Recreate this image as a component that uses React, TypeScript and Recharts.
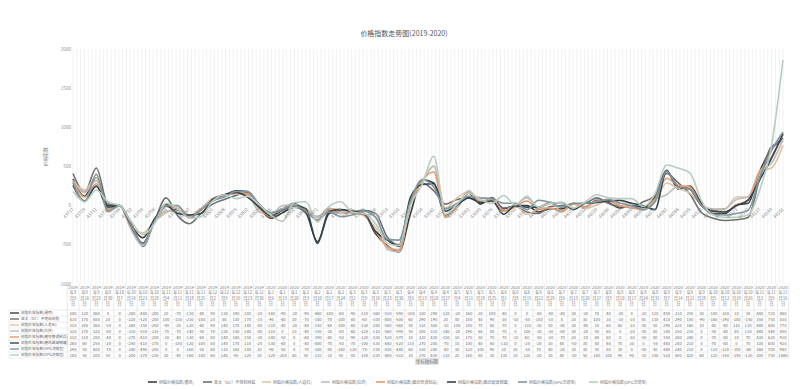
import { LineChart, Line, XAxis, YAxis, CartesianGrid, Legend, LabelList } from 'recharts';

const FONT = '"Noto Sans CJK SC", "Noto Sans", sans-serif';

// 周度日期（1月27日春节周无报价）
const dates = [
  '2019年9月9日', '2019年9月16日', '2019年9月23日', '2019年9月30日', '2019年10月7日', '2019年10月14日',
  '2019年10月21日', '2019年10月28日', '2019年11月4日', '2019年11月11日', '2019年11月18日', '2019年11月25日',
  '2019年12月2日', '2019年12月9日', '2019年12月16日', '2019年12月23日', '2019年12月30日',
  '2020年1月6日', '2020年1月13日', '2020年1月20日', '2020年2月3日', '2020年2月10日', '2020年2月17日',
  '2020年2月24日', '2020年3月2日', '2020年3月9日', '2020年3月16日', '2020年3月23日', '2020年3月30日',
  '2020年4月6日', '2020年4月13日', '2020年4月20日', '2020年4月27日', '2020年5月4日', '2020年5月11日',
  '2020年5月18日', '2020年5月25日', '2020年6月1日', '2020年6月8日', '2020年6月15日', '2020年6月22日',
  '2020年6月29日', '2020年7月6日', '2020年7月13日', '2020年7月20日', '2020年7月27日', '2020年8月3日',
  '2020年8月10日', '2020年8月17日', '2020年8月24日', '2020年8月31日', '2020年9月7日', '2020年9月14日',
  '2020年9月21日', '2020年9月28日', '2020年10月5日', '2020年10月12日', '2020年10月19日', '2020年10月26日',
  '2020年11月2日', '2020年11月9日', '2020年11月16日',
];

const seriesNames = [
  '树脂价格指数(通用)',
  '亚太（DC）不饱和树脂',
  '树脂价格指数(人造石)',
  '树脂价格指数(拉挤)',
  '树脂价格指数(缠绕管道制品)',
  '树脂价格指数(缠绕玻璃钢罐)',
  '树脂价格指数(NPG浇铸型)',
  '树脂价格指数(DPG浇铸型)',
];

const resinGeneral = [
  340, 120, 360, 0, 0, -280, -480, -200, 20, -70, -130, -40, 90, 130, 190, 180, -20,
  -160, -90, -20, -90, -460, -100, -60, -90, -110, -360, -510, -590, -100, 330, 290, -120, -20, 160, 20, 100, -40, 0,
  0, -80, -40, -40, 30, -30, 70, 40, -30, 0, -20, 110, 450, 210, 250, 30, -100, -100, 10, 30, 440, 720, 860,
];
const apacDC = [
  410, 170, 480, 20, 0, -220, -520, -200, 100, -130, -230, -100, 20, 80, 130, 170, -10,
  -90, -40, 30, -70, -140, -70, -100, -80, -60, -100, -400, -500, 60, 290, 190, 20, 80, 100, 40, 90, -30, -10,
  -80, -100, -10, 0, 20, 30, 100, 30, -10, -10, 50, 130, 410, 290, 150, -90, -160, -190, -180, -150, 350, 750, 830,
];
const artificialStone = [
  310, 200, 360, -50, 0, -260, -350, -200, -90, -20, -120, -40, 90, 140, 170, 140, -40,
  -110, -40, -20, -40, -150, -60, -100, -60, -130, -280, -540, -560, 50, 310, 500, -30, 100, 180, 70, 60, -70, 0,
  -110, -30, 50, -80, 30, -40, 10, 60, 60, -10, -50, 50, 290, 220, 160, 10, -40, -40, 110, 110, 440, 480, 770,
];
const pultrusion = [
  320, 170, 320, -80, 0, -310, -510, -210, -70, -70, -140, -50, 70, 130, 150, 140, -80,
  -110, 0, 10, -40, -150, -30, -80, -60, -120, -110, -560, -590, 50, 300, 510, -140, -20, 190, 60, 80, -70, 0,
  100, -30, -30, -80, 30, -20, 50, 60, 0, -20, -50, 80, 140, 250, 210, 0, -50, -40, 80, 110, 440, 540, 850,
];
const windingPipe = [
  310, 110, 280, -40, 0, -270, -410, -200, -10, -40, -130, -60, 80, 140, 160, 150, -30,
  -140, -50, 0, -60, -190, -40, -50, -90, -120, -330, -520, -570, 10, 320, 430, -150, 10, 170, 50, 70, -70, -10,
  60, -50, -30, -70, 20, -10, 60, 60, 0, -30, -50, 80, 350, 260, 240, 0, -70, -80, 10, 70, 430, 620, 910,
];
const windingTank = [
  260, 60, 250, -20, 0, -250, -410, -170, 0, -100, -120, -100, 80, 140, 170, 110, -20,
  -130, -60, 0, -40, -480, -70, -50, -70, -100, -330, -440, -520, 110, 270, 280, -70, 10, 100, 40, 60, -110, 0,
  -20, -20, 30, 40, -50, 30, 40, 60, 70, 30, 0, -50, 440, 240, 210, 0, -70, -80, 0, 70, 330, 600, 920,
];
const npgCasting = [
  290, 50, 400, -70, 0, -240, -490, -200, 0, 0, -160, -50, 60, 110, 180, 180, 20,
  -90, -50, 0, -70, -180, -80, -140, -120, -70, -150, -430, -440, 60, 330, 240, -40, 30, 120, 100, 90, 30, 30,
  -50, 70, 40, -20, 30, 30, 50, 80, 30, 0, -50, 50, 440, 240, 210, 0, -110, -120, -100, -60, 360, 700, 940,
];
const dpgCasting = [
  180, 50, 200, 50, 0, -200, -370, -230, 30, -40, -160, -140, 60, 140, 90, 120, 10,
  -120, -200, 40, 50, -210, -10, 50, -80, -100, -230, -480, -510, 10, 270, 630, -110, 20, 160, 80, 30, 130, 10,
  120, -20, 30, 40, -30, 50, 140, 100, 90, 90, -10, 150, 520, 480, 420, 60, -120, -150, -150, -120, 200, 750, 1860,
];

const yTicks = [-1000, -500, 0, 500, 1000, 1500, 2000];

const allSeries = [resinGeneral, apacDC, artificialStone, pultrusion, windingPipe, windingTank, npgCasting, dpgCasting];
const lineColors = ['#3c3c3c', '#707070', '#dcc2a4', '#bdbdbd', '#e39a6c', '#33434d', '#7f96a2', '#b8cdbf'];

// Excel 序列日期（轴标签用）
const toSerial = (d: string) => {
  const m = d.match(/(\d+)年(\d+)月(\d+)日/)!;
  return Date.UTC(+m[1], +m[2] - 1, +m[3]) / 86400000 + 25569;
};

const data = dates.map((d, i) => {
  const row: Record<string, number | string> = { date: d, serial: toSerial(d), zero: 0 };
  allSeries.forEach((s, k) => {
    row['k' + k] = s[i];
  });
  return row;
});

const HEAD_H = 26;
const ROW_H = 6;
const GRID = '#dadada';
const SMALL = 4.2;

const TableTick = (props: any) => {
  const { x, y, payload } = props;
  const i = typeof props.index === 'number' ? props.index : payload.index;
  const half = payload && payload.offset ? payload.offset : 5.7;
  const m = dates[i].match(/(\d+)年(\d+)月(\d+)日/)!;
  const head = [m[1], '年' + m[2], '月' + m[3], '日'];
  const left = x - half;
  const right = x + half;
  const bottom = y + HEAD_H + ROW_H * allSeries.length;
  return (
    <g fontFamily={FONT}>
      <line x1={left} x2={left} y1={y} y2={bottom} stroke={GRID} strokeWidth={0.6} />
      {i === dates.length - 1 && <line x1={right} x2={right} y1={y} y2={bottom} stroke={GRID} strokeWidth={0.6} />}
      {head.map((t, r) => (
        <text key={r} x={x} y={y + 5 + r * 5.4} textAnchor="middle" fontSize={SMALL} fill="#777">
          {t}
        </text>
      ))}
      {allSeries.map((s, k) => (
        <g key={k}>
          <line x1={left} x2={right} y1={y + HEAD_H + k * ROW_H} y2={y + HEAD_H + k * ROW_H} stroke={GRID} strokeWidth={0.5} />
          <text x={x} y={y + HEAD_H + k * ROW_H + 4.5} textAnchor="middle" fontSize={SMALL} fill="#666">
            {s[i]}
          </text>
        </g>
      ))}
      <line x1={left} x2={right} y1={bottom} y2={bottom} stroke={GRID} strokeWidth={0.5} />
      {i === 0 &&
        seriesNames.map((n, k) => (
          <g key={n}>
            <line x1={1} x2={left} y1={y + HEAD_H + k * ROW_H} y2={y + HEAD_H + k * ROW_H} stroke={GRID} strokeWidth={0.5} />
            <line x1={2} x2={11} y1={y + HEAD_H + k * ROW_H + 3} y2={y + HEAD_H + k * ROW_H + 3} stroke={lineColors[k]} strokeWidth={1.4} />
            <text x={13} y={y + HEAD_H + k * ROW_H + 4.4} fontSize={3.7} fill="#666">
              {n}
            </text>
          </g>
        ))}
      {i === 0 && <line x1={1} x2={left} y1={bottom} y2={bottom} stroke={GRID} strokeWidth={0.5} />}
      {i === 0 && <line x1={1} x2={1} y1={y + HEAD_H} y2={bottom} stroke={GRID} strokeWidth={0.5} />}
    </g>
  );
};

const ZeroDateLabel = (props: any) => {
  const { x, y, value } = props;
  const ax = x + 1;
  const ay = y + 4;
  return (
    <text x={ax} y={ay} transform={`rotate(-45 ${ax} ${ay})`} textAnchor="end" fontSize={4.6} fill="#8c8c8c" fontFamily={FONT}>
      {value}
    </text>
  );
};

// 图例按系列原顺序排列
const LegendRow = () => {
  const fs = 4;
  let cursor = 0;
  const laid = seriesNames.map((n, k) => {
    const start = cursor;
    cursor += 12 + n.length * fs + 3;
    return { n, k, start };
  });
  const total = cursor;
  return (
    <svg width={792} height={14} style={{ display: 'block' }}>
      <g transform={`translate(${(792 - total) / 2},0)`} fontFamily={FONT}>
        {laid.map(({ n, k, start }) => (
          <g key={n}>
            <line x1={start} x2={start + 9} y1={7} y2={7} stroke={lineColors[k]} strokeWidth={1.6} />
            <text x={start + 11} y={8.5} fontSize={fs} fill="#777">
              {n}
            </text>
          </g>
        ))}
      </g>
    </svg>
  );
};

const stripes = ({ offset }: any) => {
  const out: number[] = [];
  const step = offset.width / (dates.length * 3);
  for (let k = 0; k <= dates.length * 3; k++) out.push(offset.left + k * step);
  return out;
};

export default function App() {
  return (
    <div style={{ position: 'relative', width: 792, height: 381 }}>
      <LineChart width={792} height={381} data={data} margin={{ top: 41, right: 17, left: 0, bottom: 6 }}>
        <CartesianGrid horizontal={false} stroke="#e7e7e7" strokeWidth={0.6} verticalCoordinatesGenerator={stripes} />
        <XAxis
          dataKey="date"
          interval={0}
          height={85}
          axisLine={false}
          tickLine={false}
          tickSize={0}
          tickMargin={0}
          tick={TableTick}
        />
        <YAxis
          domain={[-1000, 2000]}
          ticks={yTicks}
          width={65}
          axisLine={false}
          tickLine={false}
          tickSize={0}
          tickMargin={2}
          tick={{ fontSize: 4.6, fill: '#8f8f8f', fontFamily: FONT }}
          label={{ value: '价格指数', angle: -90, position: 'insideLeft', offset: 37, fontSize: 4.8, fill: '#888', fontFamily: FONT }}
        />
        <Line dataKey="zero" stroke="transparent" strokeWidth={0} dot={false} activeDot={false} legendType="none" isAnimationActive={false}>
          <LabelList dataKey="serial" content={ZeroDateLabel} />
        </Line>
        {seriesNames.map((n, k) => (
          <Line
            key={n}
            type="monotone"
            dataKey={'k' + k}
            name={n}
            stroke={lineColors[k]}
            strokeWidth={1.6}
            dot={false}
            isAnimationActive={false}
          />
        ))}
        <Legend verticalAlign="bottom" height={14} wrapperStyle={{ bottom: 0, left: 0 }} content={LegendRow} />
      </LineChart>
      <svg width={792} height={381} style={{ position: 'absolute', left: 0, top: 0, pointerEvents: 'none' }}>
        <text x={396} y={28} textAnchor="middle" fontSize={7} fill="#555" fontFamily={FONT}>
          价格指数走势图(2019-2020)
        </text>
        <rect x={407} y={350} width={24} height={7} fill="#e4e4e4" />
        <text x={419} y={355.4} textAnchor="middle" fontSize={4.4} fill="#777" fontFamily={FONT}>
          坐标轴标题
        </text>
      </svg>
    </div>
  );
}
